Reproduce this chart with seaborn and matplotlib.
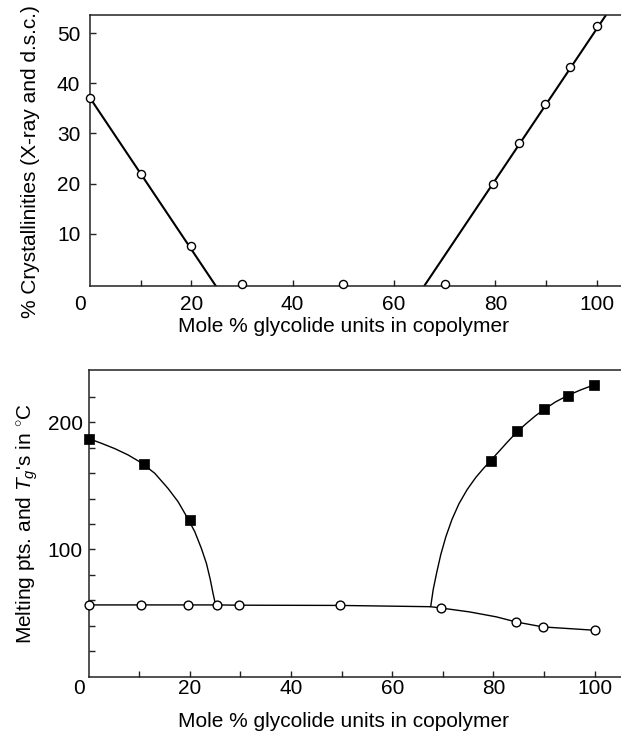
import matplotlib
matplotlib.use("Agg")
import matplotlib.pyplot as plt
import seaborn as sns
from matplotlib.ticker import FixedLocator, NullFormatter

# ---------------- data ----------------
# Upper panel: % crystallinity vs mole % glycolide
xtal_x = [0, 10, 20, 30, 50, 70, 79.5, 84.7, 89.8, 94.8, 100]
xtal_y = [37.1, 21.9, 7.6, 0, 0, 0, 19.9, 28.0, 35.9, 43.3, 51.4]
# straight trend lines drawn in the reference
xtal_fit_left_x = [0, 24.8]
xtal_fit_left_y = [37.1, -0.4]
xtal_fit_right_x = [66.0, 101.8]
xtal_fit_right_y = [-0.4, 53.6]

# Lower panel: melting points (filled squares) and Tg (open circles)
tm_x = [0, 11, 20, 79.6, 84.7, 90, 94.7, 99.8]
tm_y = [187, 167.5, 123, 169.5, 193, 210.5, 220.5, 229]
tg_x = [0, 10.4, 19.7, 25.3, 29.8, 49.7, 69.6, 84.5, 89.8, 100]
tg_y = [56.4, 56.4, 56.4, 56.4, 56.2, 56.0, 54.0, 43.0, 39.1, 36.5]

# hand-drawn curves
tm_curve_left_x = [0, 2.5, 5.2, 7.8, 10.4, 13.1, 15.7, 17.7, 19.6, 21.0, 22.3,
                   23.3, 24.05, 24.6, 25.1]
tm_curve_left_y = [187.2, 183.5, 179.2, 174.3, 168.2, 159.8, 148.0, 137.5, 124.4,
                   113.9, 100.8, 89.0, 76.5, 65.5, 56.5]
tm_curve_right_x = [67.6, 68.1, 68.8, 69.6, 70.6, 71.8, 73.2, 74.8, 76.5, 78.0,
                    79.6, 81.2, 82.9, 84.7, 86.5, 88.3, 90.0, 92.3, 94.7, 97.2, 99.8]
tm_curve_right_y = [55.0, 68.5, 82.0, 96.0, 110.0, 123.5, 136.0, 147.0, 156.5, 163.5,
                    170.5, 177.5, 185.0, 192.5, 199.0, 205.0, 210.0, 216.0, 221.0,
                    225.3, 229.2]
tg_curve_x = [0, 10.4, 19.7, 25.3, 29.8, 49.7, 67.6, 69.6, 75.3, 80.6, 84.5, 89.8, 100]
tg_curve_y = [56.4, 56.4, 56.4, 56.4, 56.2, 56.0, 55.0, 54.0, 50.9, 47.0, 43.0, 39.1, 36.5]

x_major = [20, 40, 60, 80, 100]
x_minor = [10, 30, 50, 70, 90]
xtal_yticks = [10, 20, 30, 40, 50]
temp_major = [100, 200]
temp_minor = [20, 40, 60, 80, 120, 140, 160, 180, 220]

XLABEL = "Mole % glycolide units in copolymer"
YLABEL_TOP = "% Crystallinities (X-ray and d.s.c.)"
YLABEL_BOT = r"Melting pts. and $T_g$'s in $^{\circ}$C"

# ---------------- style ----------------
sns.set_theme(style="ticks")
plt.rcParams["font.family"] = ["Liberation Sans", "DejaVu Sans"]
plt.rcParams["mathtext.fontset"] = "custom"
plt.rcParams["mathtext.rm"] = "Liberation Sans"
plt.rcParams["mathtext.it"] = "Liberation Sans:italic"
plt.rcParams["axes.edgecolor"] = "#222222"
FS = 15

W, H = 621, 734
fig = plt.figure(figsize=(W / 100, H / 100), dpi=100)


def px_axes(left, top, right, bottom):
    return fig.add_axes([left / W, 1 - bottom / H, (right - left) / W, (bottom - top) / H])


ax1 = px_axes(90, 15.3, 621, 285.7)
ax2 = px_axes(88.5, 370, 621, 676.7)

# ---- upper panel ----
sns.lineplot(x=xtal_fit_left_x, y=xtal_fit_left_y, ax=ax1, color="black", lw=1.5,
             sort=False, estimator=None)
sns.lineplot(x=xtal_fit_right_x, y=xtal_fit_right_y, ax=ax1, color="black", lw=1.5,
             sort=False, estimator=None)
sns.scatterplot(x=xtal_x, y=xtal_y, ax=ax1, marker="o", s=34, facecolor="white",
                edgecolor="black", linewidth=1.0, zorder=5, clip_on=False)
ax1.set_xlim(0, 104.8)
ax1.set_ylim(-0.4, 53.6)

# ---- lower panel ----
sns.lineplot(x=tg_curve_x, y=tg_curve_y, ax=ax2, color="black", lw=1.0,
             sort=False, estimator=None)
sns.lineplot(x=tm_curve_left_x, y=tm_curve_left_y, ax=ax2, color="black", lw=1.0,
             sort=False, estimator=None)
sns.lineplot(x=tm_curve_right_x, y=tm_curve_right_y, ax=ax2, color="black", lw=1.0,
             sort=False, estimator=None)
sns.scatterplot(x=tg_x, y=tg_y, ax=ax2, marker="o", s=40, facecolor="white",
                edgecolor="black", linewidth=1.0, zorder=5, clip_on=False)
sns.scatterplot(x=tm_x, y=tm_y, ax=ax2, marker="s", s=44, color="black",
                edgecolor="black", linewidth=0.5, zorder=6, clip_on=False)
ax2.set_xlim(0, 105.2)
ax2.set_ylim(0, 241)

for ax in (ax1, ax2):
    ax.spines["right"].set_visible(False)
    for s in ("left", "top", "bottom"):
        ax.spines[s].set_linewidth(1.1)
    ax.xaxis.set_major_locator(FixedLocator(x_major))
    ax.xaxis.set_minor_locator(FixedLocator(x_minor))
    ax.xaxis.set_minor_formatter(NullFormatter())
    ax.tick_params(which="both", direction="in", length=4.5, width=1.0,
                   colors="#222222", labelcolor="black", labelsize=FS,
                   top=False, right=False)
    ax.set_xlabel(XLABEL, fontsize=FS, color="black")

# upper panel ticks / labels
ax1.yaxis.set_major_locator(FixedLocator(xtal_yticks))
ax1.tick_params(axis="y", pad=7)
ax1.tick_params(axis="x", pad=6.5)
ax1.set_ylabel(YLABEL_TOP, fontsize=FS, color="black")
ax1.yaxis.set_label_coords(-0.094, 0.459)
ax1.xaxis.set_label_coords(0.477, -0.116)
ax1.annotate("0", xy=(0, 0), xycoords=("data", "axes fraction"),
             xytext=(-10, -9), textcoords="offset pixels", ha="center",
             va="top", fontsize=FS, color="black", annotation_clip=False)

# lower panel ticks / labels
ax2.yaxis.set_major_locator(FixedLocator(temp_major))
ax2.yaxis.set_minor_locator(FixedLocator(temp_minor))
ax2.yaxis.set_minor_formatter(NullFormatter())
ax2.tick_params(axis="y", pad=4)
ax2.tick_params(axis="x", pad=1.5)
ax2.set_ylabel(YLABEL_BOT, fontsize=FS, color="black")
ax2.yaxis.set_label_coords(-0.091, 0.5)
ax2.xaxis.set_label_coords(0.478, -0.115)
ax2.annotate("0", xy=(0, 0), xycoords=("data", "axes fraction"),
             xytext=(-10, -2), textcoords="offset pixels", ha="center",
             va="top", fontsize=FS, color="black", annotation_clip=False)

fig.savefig("out.png", dpi=100)
